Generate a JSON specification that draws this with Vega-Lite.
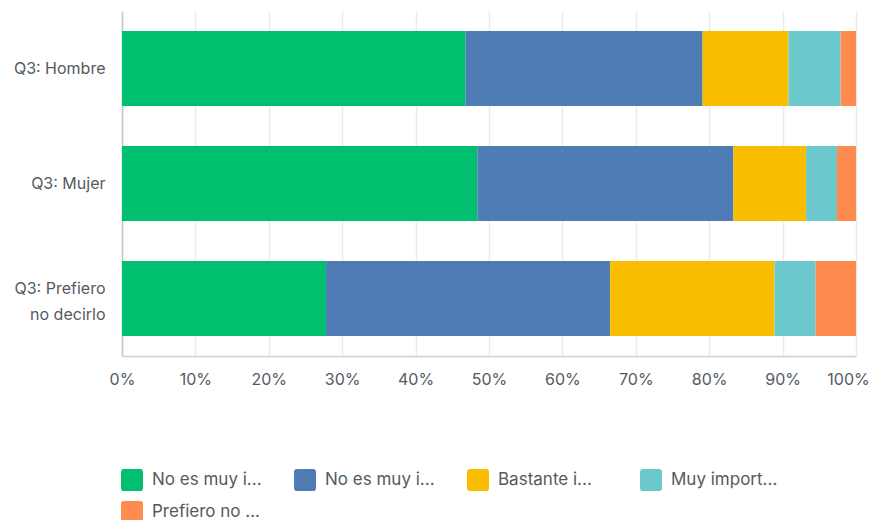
{
  "$schema": "https://vega.github.io/schema/vega-lite/v6.json",
  "width": 734,
  "height": 345,
  "autosize": {"type": "none"},
  "padding": {"left": 122, "top": 11, "right": 15, "bottom": 164},
  "background": "#ffffff",
  "config": {
    "view": {"stroke": null},
    "font": "Inter"
  },
  "data": {
    "values": [
      {"grupo": "Q3: Hombre", "codigo": "r1", "orden": 1, "pct": 46.8},
      {"grupo": "Q3: Hombre", "codigo": "r2", "orden": 2, "pct": 32.3},
      {"grupo": "Q3: Hombre", "codigo": "r3", "orden": 3, "pct": 11.7},
      {"grupo": "Q3: Hombre", "codigo": "r4", "orden": 4, "pct": 7.1},
      {"grupo": "Q3: Hombre", "codigo": "r5", "orden": 5, "pct": 2.1},
      {"grupo": "Q3: Mujer", "codigo": "r1", "orden": 1, "pct": 48.4},
      {"grupo": "Q3: Mujer", "codigo": "r2", "orden": 2, "pct": 34.9},
      {"grupo": "Q3: Mujer", "codigo": "r3", "orden": 3, "pct": 9.9},
      {"grupo": "Q3: Mujer", "codigo": "r4", "orden": 4, "pct": 4.2},
      {"grupo": "Q3: Mujer", "codigo": "r5", "orden": 5, "pct": 2.6},
      {"grupo": "Q3: Prefiero no decirlo", "codigo": "r1", "orden": 1, "pct": 27.8},
      {"grupo": "Q3: Prefiero no decirlo", "codigo": "r2", "orden": 2, "pct": 38.7},
      {"grupo": "Q3: Prefiero no decirlo", "codigo": "r3", "orden": 3, "pct": 22.4},
      {"grupo": "Q3: Prefiero no decirlo", "codigo": "r4", "orden": 4, "pct": 5.6},
      {"grupo": "Q3: Prefiero no decirlo", "codigo": "r5", "orden": 5, "pct": 5.5}
    ]
  },
  "mark": {"type": "bar"},
  "encoding": {
    "y": {
      "field": "grupo",
      "type": "nominal",
      "sort": ["Q3: Hombre", "Q3: Mujer", "Q3: Prefiero no decirlo"],
      "scale": {"paddingInner": 0.348, "paddingOuter": 0.174},
      "axis": {
        "title": null,
        "domain": true,
        "domainColor": "#c8c8c8",
        "domainWidth": 1.5,
        "ticks": false,
        "labelPadding": 17,
        "labelFontSize": 16,
        "labelColor": "#555a5f",
        "labelLineHeight": 26,
        "labelLimit": 200,
        "labelOffset": {"expr": "datum.value == 'Q3: Prefiero no decirlo' ? -10 : 0"},
        "labelExpr": "datum.label == 'Q3: Prefiero no decirlo' ? ['Q3: Prefiero', 'no decirlo'] : datum.label"
      }
    },
    "x": {
      "field": "pct",
      "type": "quantitative",
      "stack": "normalize",
      "scale": {"domain": [0, 1]},
      "axis": {
        "title": null,
        "format": ".0%",
        "values": [0, 0.1, 0.2, 0.3, 0.4, 0.5, 0.6, 0.7, 0.8, 0.9, 1],
        "grid": true,
        "gridColor": "#ebebeb",
        "gridWidth": 1.5,
        "domain": true,
        "domainColor": "#d0d0d0",
        "domainWidth": 1.5,
        "ticks": false,
        "labelPadding": 15,
        "labelFontSize": 16,
        "labelColor": "#555a5f",
        "labelFlush": false,
        "labelOffset": {"expr": "datum.value == 1 ? -8 : 0"}
      }
    },
    "color": {
      "field": "codigo",
      "type": "nominal",
      "scale": {
        "domain": ["r1", "r2", "r3", "r4", "r5"],
        "range": ["#00bf6f", "#507cb6", "#f9be00", "#6bc8cd", "#ff8b4f"]
      },
      "legend": {
        "title": null,
        "orient": "none",
        "legendX": -1,
        "legendY": 458,
        "direction": "horizontal",
        "columns": 4,
        "gridAlign": "all",
        "columnPadding": 32,
        "rowPadding": 10,
        "symbolType": "M -1 -0.72 Q -1 -1 -0.72 -1 L 0.72 -1 Q 1 -1 1 -0.72 L 1 0.72 Q 1 1 0.72 1 L -0.72 1 Q -1 1 -1 0.72 Z",
        "symbolSize": 484,
        "symbolStrokeWidth": 0,
        "symbolOpacity": 1,
        "labelFontSize": 17,
        "labelColor": "#555a5f",
        "labelOffset": 9,
        "labelLimit": 200,
        "labelExpr": "datum.label == 'r1' ? 'No es muy i...' : datum.label == 'r2' ? 'No es muy i...' : datum.label == 'r3' ? 'Bastante i...' : datum.label == 'r4' ? 'Muy import...' : 'Prefiero no ...'"
      }
    },
    "order": {"field": "orden", "type": "quantitative"}
  }
}
